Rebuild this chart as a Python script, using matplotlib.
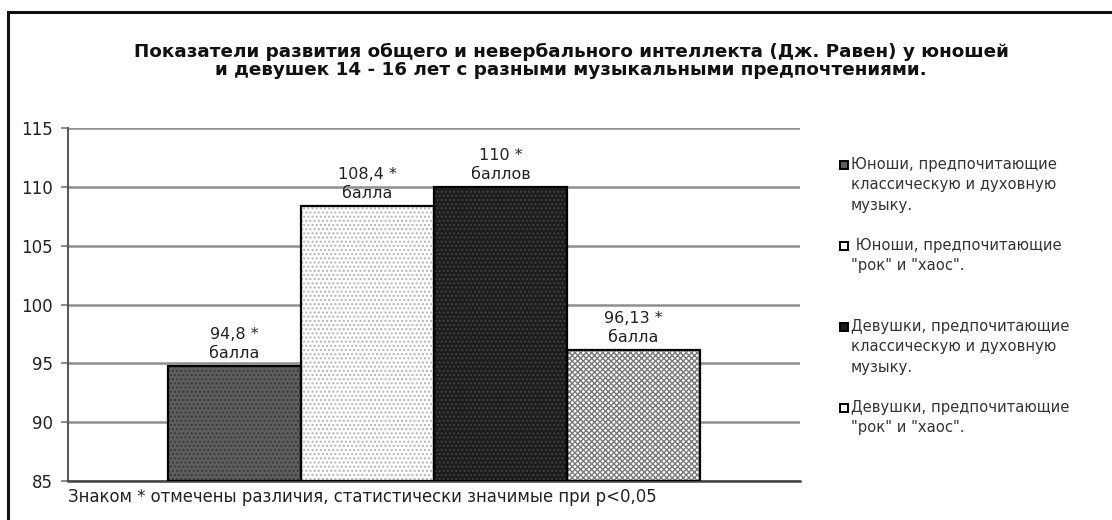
import numpy as np
import matplotlib.pyplot as plt
from matplotlib.patches import Rectangle

plt.rcParams['font.family'] = ['DejaVu Sans']

# data
groups = ['Юноши, предпочитающие\nклассическую и духовную\nмузыку.',
          ' Юноши, предпочитающие\n"рок" и "хаос".',
          'Девушки, предпочитающие\nклассическую и духовную\nмузыку.',
          'Девушки, предпочитающие\n"рок" и "хаос".']
values = [94.8, 108.4, 110.0, 96.13]
bar_labels = ['94,8 *\nбалла', '108,4 *\nбалла', '110 *\nбаллов', '96,13 *\nбалла']
yticks = [85, 90, 95, 100, 105, 110, 115]

face_colors = ['#5e5e5e', '#ffffff', '#1c1c1c', '#ffffff']
hatch_colors = ['#3a3a3a', '#b4b4b4', '#404040', '#7a7a7a']
hatches = ['....', '....', '....', 'xxxxxx']

title = ('Показатели развития общего и невербального интеллекта (Дж. Равен) у юношей\n'
         'и девушек 14 - 16 лет с разными музыкальными предпочтениями.')
note = 'Знаком * отмечены различия, статистически значимые при p<0,05'

W, H = 1112, 520
fig = plt.figure(figsize=(W / 100, H / 100), dpi=100)
ax = fig.add_axes([68 / W, 1 - 481 / H, (800 - 68) / W, (481 - 128) / H])

x = np.arange(len(values))
for i in x:
    # hatched fill first, then the black outline on top
    ax.bar(i, values[i] - 85, bottom=85, width=1.0, color=face_colors[i],
           hatch=hatches[i], edgecolor=hatch_colors[i], linewidth=0, zorder=3)
    ax.bar(i, values[i] - 85, bottom=85, width=1.0, fill=False,
           edgecolor='black', linewidth=1.6, zorder=4)
    ax.text(i, values[i] + 0.4, bar_labels[i], ha='center', va='bottom',
            fontsize=11.5, color='#222222', linespacing=1.35, zorder=5)

ax.set_xlim(-1.25, 4.25)
ax.set_ylim(85, 115)
ax.set_yticks(yticks)
ax.set_xticks([])
ax.tick_params(axis='y', labelsize=12, length=5, width=1.2, color='#777777', pad=6,
               labelcolor='#222222')
ax.yaxis.grid(True, color='#8f8f8f', linewidth=1.8, zorder=0)
ax.set_axisbelow(True)
for s in ['top', 'right']:
    ax.spines[s].set_visible(False)
ax.spines['left'].set_color('#555555')
ax.spines['left'].set_linewidth(1.4)
ax.spines['bottom'].set_color('#444444')
ax.spines['bottom'].set_linewidth(1.8)

fig.text(571 / W, 1 - 61 / H, title, ha='center', va='center', fontsize=13.2,
         fontweight='bold', color='#111111', linespacing=0.95)
fig.text(68 / W, 1 - 497 / H, note, ha='left', va='center', fontsize=11.9, color='#222222')

# legend drawn by hand so entries keep the even spacing of the original
leg_y = [165, 246, 327, 408]
for i, (lab, y) in enumerate(zip(groups, leg_y)):
    fig.add_artist(Rectangle((840 / W, 1 - (y + 4) / H), 8 / W, 8 / H,
                             transform=fig.transFigure, facecolor=face_colors[i],
                             edgecolor='black', linewidth=1.4))
    fig.text(851 / W, 1 - (y - 8) / H, lab, ha='left', va='top', fontsize=10.6,
             color='#333333', linespacing=1.45)

# outer frame
fig.add_artist(Rectangle((8 / W, -0.1), 1.2, 1 - 12 / H + 0.1, transform=fig.transFigure,
                         fill=False, edgecolor='#111111', linewidth=2.2))

fig.savefig('out.png', dpi=100)
